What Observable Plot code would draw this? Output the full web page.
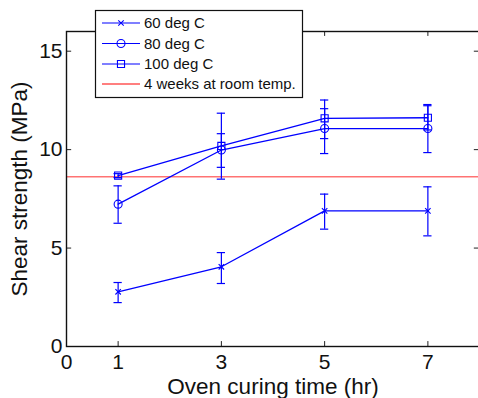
<!DOCTYPE html>
<html>
<head>
<meta charset="utf-8">
<script src="https://cdn.jsdelivr.net/npm/d3@7"></script>
<script src="https://cdn.jsdelivr.net/npm/@observablehq/plot@0.6"></script>
<style>
  html, body { margin: 0; padding: 0; background: white; overflow: hidden; }
  #wrap { position: relative; width: 478px; height: 398px; }
  #wrap svg { overflow: hidden; }
  #legend { position: absolute; left: 0; top: 0; pointer-events: none; }
</style>
</head>
<body>
<div id="wrap"></div>
<script>
// ---- data ----
const times = [1, 3, 5, 7];
const s60   = [2.78, 4.05, 6.89, 6.89];
const s60lo = [2.23, 3.20, 5.96, 5.62];
const s60hi = [3.25, 4.77, 7.74, 8.11];
const s80   = [7.23, 9.98, 11.07, 11.07];
const s80lo = [6.26, 9.10, 9.80, 9.85];
const s80hi = [8.16, 10.81, 12.08, 12.29];
const s100   = [8.68, 10.19, 11.59, 11.62];
const s100lo = [8.58, 8.50, 10.56, 11.00];
const s100hi = [8.78, 11.85, 12.52, 12.23];
const roomTemp = 8.62;
const seriesNames = ["60 deg C", "80 deg C", "100 deg C"];
const roomLabel = "4 weeks at room temp.";
const xTicks = [0, 1, 3, 5, 7];
const yTicks = [0, 5, 10, 15];
const xLabel = "Oven curing time (hr)";
const yLabel = "Shear strength (MPa)";

const symbols = ["times", "circle", "square"];
const blue = "#0000ff";
const font = "'Liberation Sans', Arial, sans-serif";

function build(vals, lo, hi, name) {
  return times.map((t, i) => ({x: t, y: vals[i], lo: lo[i], hi: hi[i], s: name}));
}
const series = [
  build(s60, s60lo, s60hi, seriesNames[0]),
  build(s80, s80lo, s80hi, seriesNames[1]),
  build(s100, s100lo, s100hi, seriesNames[2])
];
const capHalf = 0.08;
const dotR = {"times": 2.6, "circle": 4, "square": 4};

const marks = [];
// inward ticks
marks.push(Plot.ruleX(xTicks, {x: d => d, y1: 0, y2: 0.25, stroke: "#222", strokeWidth: 1}));
marks.push(Plot.ruleX(xTicks, {x: d => d, y1: 16, y2: 15.75, stroke: "#222", strokeWidth: 1}));
marks.push(Plot.ruleY(yTicks, {y: d => d, x1: 0, x2: 0.1, stroke: "#222", strokeWidth: 1}));
marks.push(Plot.ruleY(yTicks, {y: d => d, x1: 8, x2: 7.9, stroke: "#222", strokeWidth: 1}));
// room temperature reference
marks.push(Plot.ruleY([roomTemp], {y: d => d, stroke: "red", strokeOpacity: 0.55, strokeWidth: 1.6}));
// series
series.forEach((data, k) => {
  marks.push(Plot.ruleX(data, {x: "x", y1: "lo", y2: "hi", stroke: blue, strokeWidth: 1.2}));
  marks.push(Plot.ruleY(data, {y: "lo", x1: d => d.x - capHalf, x2: d => d.x + capHalf, stroke: blue, strokeWidth: 1.2}));
  marks.push(Plot.ruleY(data, {y: "hi", x1: d => d.x - capHalf, x2: d => d.x + capHalf, stroke: blue, strokeWidth: 1.2}));
  marks.push(Plot.line(data, {x: "x", y: "y", stroke: blue, strokeWidth: 1.3}));
  marks.push(Plot.dot(data, {x: "x", y: "y", symbol: () => symbols[k], r: dotR[symbols[k]], stroke: blue, fill: "none", strokeWidth: 1.1}));
});
// frame
marks.push(Plot.frame({stroke: "#111", strokeWidth: 1.4}));
// axes (labels only)
marks.push(Plot.axisX(xTicks, {tickSize: 0, tickPadding: 8, fontSize: 21, label: null, fill: "#111"}));
marks.push(Plot.axisY(yTicks, {tickSize: 0, tickPadding: 4, fontSize: 21, label: null, fill: "#111"}));
// axis titles
marks.push(Plot.text([xLabel], {text: d => d, frameAnchor: "bottom", dy: 40, fontSize: 22.5, fill: "#111", lineAnchor: "middle", textAnchor: "middle"}));
marks.push(Plot.text([yLabel], {text: d => d, frameAnchor: "left", dx: -47, rotate: -90, fontSize: 22.5, fill: "#111", lineAnchor: "middle", textAnchor: "middle"}));

const chart = Plot.plot({
  width: 478,
  height: 398,
  marginLeft: 66,
  marginRight: -1,
  marginTop: 31,
  marginBottom: 52,
  x: {domain: [0, 8], range: [66, 479]},
  y: {domain: [0, 16], range: [346, 31]},
  style: {fontFamily: font, background: "white", overflow: "hidden"},
  marks
});
document.getElementById("wrap").appendChild(chart);

// ---- legend overlay ----
const lg = d3.select("#wrap").append("svg")
  .attr("id", "legend").attr("width", 478).attr("height", 398);
lg.append("rect").attr("x", 95.5).attr("y", 10.5).attr("width", 207).attr("height", 87)
  .attr("fill", "white").attr("stroke", "#111").attr("stroke-width", 1.2);
const rowY = [23, 43.5, 64, 84];
const entries = seriesNames.map((n, i) => ({name: n, color: blue, sym: symbols[i]}))
  .concat([{name: roomLabel, color: "red", sym: null}]);
entries.forEach((e, i) => {
  const y = rowY[i];
  lg.append("line").attr("x1", 102).attr("x2", 140).attr("y1", y).attr("y2", y)
    .attr("stroke", e.color).attr("stroke-width", 1.2);
  if (e.sym) {
    const symMap = {times: d3.symbolTimes, circle: d3.symbolCircle, square: d3.symbolSquare};
    const r = dotR[e.sym];
    lg.append("path").attr("transform", `translate(121,${y})`)
      .attr("d", d3.symbol(symMap[e.sym], r * r * Math.PI)())
      .attr("fill", "none").attr("stroke", blue).attr("stroke-width", 1.1);
  }
  lg.append("text").attr("x", 144).attr("y", y).attr("dy", "0.35em")
    .attr("font-family", font).attr("font-size", 15).attr("fill", "#111").text(e.name);
});
</script>
</body>
</html>
